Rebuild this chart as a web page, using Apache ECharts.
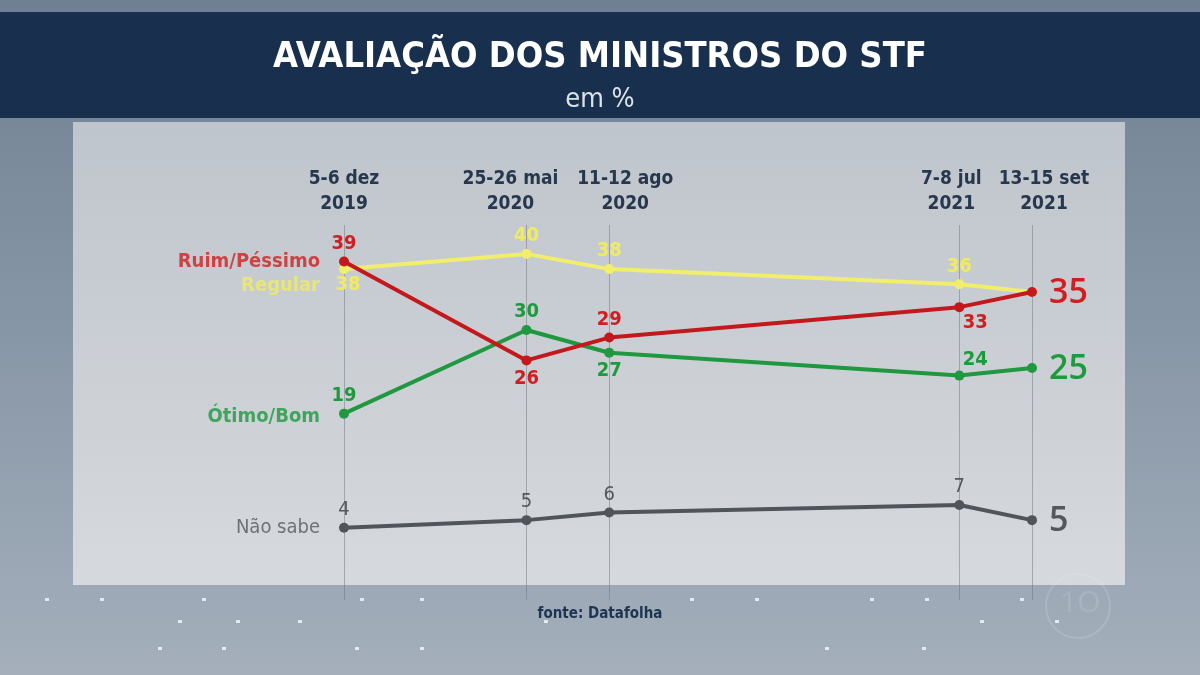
<!DOCTYPE html>
<html>
<head>
<meta charset="utf-8">
<script src="https://cdn.jsdelivr.net/npm/echarts@6/dist/echarts.min.js"></script>
<style>
  html, body { margin: 0; padding: 0; background: #7d8b9b; }
  #chart { width: 1200px; height: 675px; }
</style>
</head>
<body>
<div id="chart"></div>
<script>
// survey dates (midpoint of each fieldwork window) and their labels
var surveyDates = ['2019-12-05T12:00', '2020-05-25T12:00', '2020-08-11T12:00', '2021-07-07T12:00', '2021-09-14T00:00'];
var dateLabels = ['5-6 dez\n2019', '25-26 mai\n2020', '11-12 ago\n2020', '7-8 jul\n2021', '13-15 set\n2021'];

var ruimPessimo = [39, 26, 29, 33, 35];
var regular = [38, 40, 38, 36, 35];
var otimoBom = [19, 30, 27, 24, 25];
var naoSabe = [4, 5, 6, 7, 5];

var seriesNames = ['Ruim/Péssimo', 'Regular', 'Ótimo/Bom', 'Não sabe'];

var FONT = "'Open Sans', 'DejaVu Sans', sans-serif";
var NARROW = "'DejaVu Sans Condensed', 'Liberation Sans Narrow', sans-serif";

var RED = '#c3191c', RED_TXT = '#d01f20';
var YEL = '#f1ee6c', YEL_TXT = '#f0ec62';
var GRN = '#1f9840', GRN_TXT = '#1d9a3d';
var GRY = '#50555b', GRY_TXT = '#54585e';

// per-point label placement: [position, offsetX, offsetY] or null to hide
function withLabels(values, color, places) {
    return values.map(function(v, i) {
        var item = { value: [surveyDates[i], v] };
        var p = places[i];
        if (!p) {
            item.label = { show: false };
        } else if (i === values.length - 1) {
            item.label = { show: true, position: 'right', distance: 12, fontSize: 34,
                           fontWeight: 600, fontFamily: FONT, color: color, offset: [0, 1] };
        } else {
            item.label = { show: true, position: p[0], offset: [p[1], p[2]] };
        }
        return item;
    });
}

function lineSeries(name, values, color, txt, places, z) {
    return {
        name: name,
        type: 'line',
        data: withLabels(values, txt, places),
        clip: false,
        z: z,
        symbol: 'circle',
        symbolSize: 10,
        lineStyle: { width: 4, color: color },
        itemStyle: { color: color },
        label: {
            show: true, color: txt, fontSize: 20, fontWeight: 'bold',
            fontFamily: NARROW, distance: 3
        },
        emphasis: { disabled: true },
        animation: false
    };
}

// series name written to the left of the first point
function nameSeries(name, value, txt, offY, weight) {
    return {
        type: 'scatter',
        data: [[surveyDates[0], value]],
        symbolSize: 0,
        clip: false,
        silent: true,
        label: {
            show: true, position: 'left', distance: 24, offset: [0, offY],
            formatter: name, color: txt, fontSize: 20, fontWeight: weight,
            fontFamily: NARROW
        },
        animation: false
    };
}

// small white specks of the studio backdrop under the panel
var specks = [];
[[45, 598], [100, 598], [202, 598], [360, 598], [420, 598], [690, 598], [755, 598], [870, 598], [925, 598], [1020, 598],
 [178, 620], [236, 620], [298, 620], [544, 620], [980, 620], [1055, 620],
 [158, 647], [222, 647], [355, 647], [420, 647], [825, 647], [922, 647]].forEach(function(p) {
    specks.push({ type: 'rect', z: -9, shape: { x: p[0], y: p[1], width: 4, height: 3 },
                  style: { fill: 'rgba(245,248,252,0.8)' } });
});

var chart = echarts.init(document.getElementById('chart'));

// date captions are nudged sideways where neighbours are close
var captionShift = [0, -16, 16, -8, 12];

var option = {
    backgroundColor: {
        type: 'linear', x: 0, y: 0, x2: 0, y2: 1,
        colorStops: [
            { offset: 0, color: '#6f8092' },
            { offset: 0.5, color: '#8897a7' },
            { offset: 1, color: '#a4afbb' }
        ]
    },
    graphic: [
        // header band
        { type: 'rect', z: -10, shape: { x: 0, y: 12, width: 1200, height: 106 },
          style: { fill: '#18304d' } },
        // light panel
        { type: 'rect', z: -10, shape: { x: 73, y: 122, width: 1052, height: 463 },
          style: { fill: { type: 'linear', x: 0, y: 0, x2: 0, y2: 1,
                           colorStops: [{ offset: 0, color: '#bfc5cc' }, { offset: 1, color: '#d6d9dd' }] } } },
        // faint broadcast logo
        { type: 'circle', z: -9, shape: { cx: 1078, cy: 606, r: 32 },
          style: { fill: 'none', stroke: 'rgba(235,240,245,0.18)', lineWidth: 2 } },
        { type: 'text', z: -9, left: 1060, top: 588,
          style: { text: '1O', fill: 'rgba(235,240,245,0.15)', fontSize: 30, fontFamily: FONT } },
        { type: 'text', left: 'center', top: 607,
          style: { text: 'fonte: Datafolha', fill: '#1e3550', fontSize: 15, fontWeight: 'bold',
                   fontFamily: NARROW } }
    ].concat(specks),
    title: {
        text: 'AVALIAÇÃO DOS MINISTROS DO STF',
        subtext: 'em %',
        left: 'center',
        top: 35,
        itemGap: 10,
        textStyle: { color: '#ffffff', fontSize: 36, fontWeight: 'bold', fontFamily: NARROW },
        subtextStyle: { color: '#dce3ea', fontSize: 27, fontFamily: NARROW }
    },
    grid: { left: 344, right: 168, top: 225, bottom: 75 },
    xAxis: {
        type: 'time',
        min: '2019-12-05T12:00',
        max: '2021-09-14T00:00',
        show: false
    },
    yAxis: {
        type: 'value',
        min: -5.5,
        max: 43.8,
        show: false
    },
    series: [
        lineSeries(seriesNames[1], regular, YEL, YEL_TXT,
            [['bottom', 4, -2], ['top', 0, 0], ['top', 0, 0], ['top', 0, 0], null], 3),
        lineSeries(seriesNames[0], ruimPessimo, RED, RED_TXT,
            [['top', 0, 0], ['bottom', 0, 0], ['top', 0, 0], ['bottom', 16, -2], ['right', 0, 0]], 4),
        lineSeries(seriesNames[2], otimoBom, GRN, GRN_TXT,
            [['top', 0, 0], ['top', 0, 0], ['bottom', 0, 0], ['top', 16, 2], ['right', 0, 0]], 3),
        (function() {
            var s = lineSeries(seriesNames[3], naoSabe, GRY, GRY_TXT,
                [['top', 0, 0], ['top', 0, 0], ['top', 0, 0], ['top', 0, 0], ['right', 0, 0]], 3);
            s.label.fontWeight = 'normal';
            s.markLine = {
                silent: true,
                symbol: 'none',
                animation: false,
                z: 1,
                lineStyle: { color: 'rgba(110,118,130,0.5)', width: 1, type: 'solid' },
                label: {
                    show: true, position: 'end', distance: 8,
                    color: '#27384e', fontSize: 19, fontWeight: 'bold', lineHeight: 25,
                    fontFamily: NARROW,
                    formatter: function(p) { return dateLabels[p.dataIndex]; }
                },
                data: surveyDates.map(function(d, i) {
                    return { xAxis: d, label: { offset: [captionShift[i], 0] } };
                })
            };
            return s;
        })(),
        nameSeries(seriesNames[0], ruimPessimo[0], RED_TXT, 0, 'bold'),
        nameSeries(seriesNames[1], regular[0], YEL_TXT, 17, 'bold'),
        nameSeries(seriesNames[2], otimoBom[0], GRN_TXT, 3, 'bold'),
        nameSeries(seriesNames[3], naoSabe[0], GRY_TXT, 0, 'normal')
    ]
};

chart.setOption(option);
</script>
</body>
</html>
